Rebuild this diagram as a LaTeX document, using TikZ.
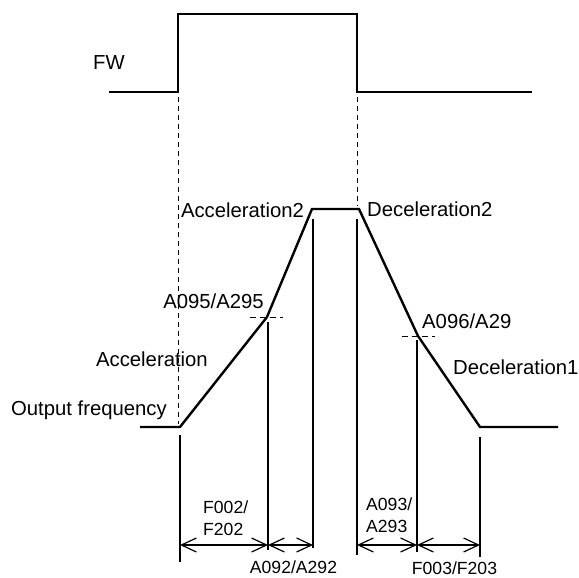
\documentclass[tikz,border=0pt]{standalone}
\usepackage{fontspec}
\setmainfont{Liberation Sans}
\usetikzlibrary{arrows.meta}

\begin{document}
\begin{tikzpicture}[
    x=1pt, y=-1pt,
    signal/.style={line width=2.4pt, line join=miter},
    guide/.style={line width=1pt, dash pattern=on 5pt off 4pt},
    level/.style={line width=1pt, dash pattern=on 6pt off 4pt},
    tick/.style={line width=1.2pt},
    span/.style={line width=1.2pt, {Straight Barb[length=15pt,width=14pt,line width=1.2pt]}-{Straight Barb[length=15pt,width=14pt,line width=1.2pt]}},
    biglabel/.style={font=\fontsize{20.3}{22}\selectfont, inner sep=0},
    smalllabel/.style={font=\fontsize{17.6}{22}\selectfont, inner sep=0, align=left}
]
\useasboundingbox (0,0) rectangle (579,578);

% ============================================
% FW SIGNAL
% ============================================
\coordinate (fw0) at (109,92);
\coordinate (fw1) at (178,92);
\coordinate (fw2) at (178,14);
\coordinate (fw3) at (357,14);
\coordinate (fw4) at (357,92);
\coordinate (fw5) at (532,92);
\draw[signal] (fw0) -- (fw1) -- (fw2) -- (fw3) -- (fw4) -- (fw5);
\node[biglabel, anchor=base] (fwlabel) at (109,70) {FW};

% ============================================
% OUTPUT FREQUENCY
% ============================================
\coordinate (out0) at (140,427);
\coordinate (out1) at (180,427);
\coordinate (out2) at (267,317);
\coordinate (out3) at (312,209);
\coordinate (out4) at (359,209);
\coordinate (out5) at (418,336);
\coordinate (out6) at (480,427);
\coordinate (out7) at (558,427);
\draw[signal] (out0) -- (out1) -- (out2) -- (out3) -- (out4) -- (out5) -- (out6) -- (out7);

% dashed guides from FW edges
\coordinate (gl0) at (178,97);
\coordinate (gl1) at (178,424);
\coordinate (gr0) at (357,97);
\coordinate (gr1) at (357,206);
\draw[guide] (gl0) -- (gl1);
\draw[guide] (gr0) -- (gr1);

% switching levels
\coordinate (lv0) at (250,317);
\coordinate (lv1) at (283,317);
\coordinate (lv2) at (402,336);
\coordinate (lv3) at (435,336);
\draw[level] (lv0) -- (lv1);
\draw[level] (lv2) -- (lv3);

% Labels
\node[biglabel, anchor=base east] (outlabel) at (167,415) {Output frequency};
\node[biglabel, anchor=base east] (acc1) at (208,366) {Acceleration};
\node[biglabel, anchor=base] (acclvl) at (213.5,308) {A095/A295};
\node[biglabel, anchor=base] (acc2) at (242.5,217) {Acceleration2};
\node[biglabel, anchor=base west] (dec2) at (367,216) {Deceleration2};
\node[biglabel, anchor=base west] (declvl) at (422,328) {A096/A29};
\node[biglabel, anchor=base west] (dec1) at (453,374) {Deceleration1};

% ============================================
% TIME MARKS
% ============================================
\coordinate (ta0) at (180,435);  \coordinate (ta1) at (180,562);
\coordinate (tb0) at (268,322);  \coordinate (tb1) at (268,550);
\coordinate (tc0) at (313,219);  \coordinate (tc1) at (313,548);
\coordinate (td0) at (357,219);  \coordinate (td1) at (357,555);
\coordinate (te0) at (417,340);  \coordinate (te1) at (417,552);
\coordinate (tf0) at (480,437);  \coordinate (tf1) at (480,557);
\foreach \t in {ta,tb,tc,td,te,tf}
    \draw[tick] (\t0) -- (\t1);

% Spans
\coordinate (sa) at (180,545);
\coordinate (sb) at (268,545);
\coordinate (sc) at (313,545);
\coordinate (sd) at (357,545);
\coordinate (se) at (417,545);
\coordinate (sf) at (480,545);
\draw[span] (sa) -- (sb);
\draw[span] (sb) -- (sc);
\draw[span] (sd) -- (se);
\draw[span] (se) -- (sf);

\node[smalllabel, anchor=north west] (accA) at (203,501) {F002/\\F202};
\node[smalllabel, anchor=north west] (decA) at (366,498) {A093/\\A293};
\node[smalllabel, anchor=base] (accB) at (293.5,573) {A092/A292};
\node[smalllabel, anchor=base] (decB) at (454.5,574) {F003/F203};

\end{tikzpicture}
\end{document}
